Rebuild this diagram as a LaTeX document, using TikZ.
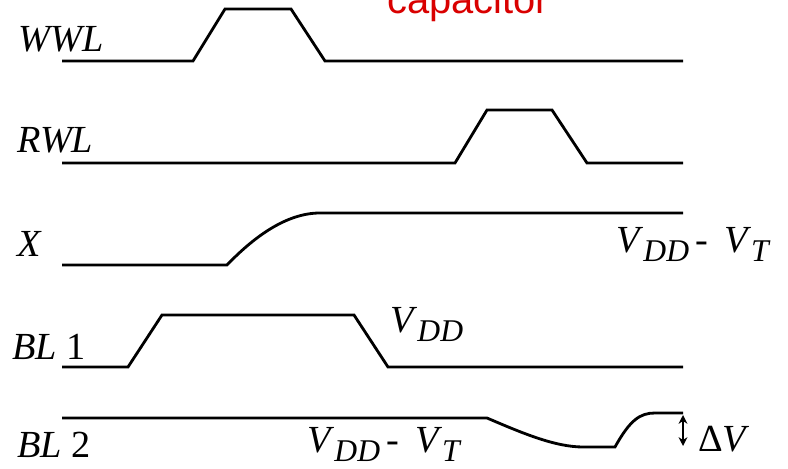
\documentclass[tikz,border=0pt]{standalone}
\usepackage{amsmath}
\usepackage{fontspec}
\setmainfont{Liberation Serif}
\newfontfamily\arialfont{Liberation Sans}
\usetikzlibrary{arrows.meta}

% V with an italic subscript, as in the original slide
\newcommand{\vsub}[2]{\textit{#1}\raisebox{-5pt}{\fontsize{18pt}{18pt}\selectfont\textit{#2}}}

\begin{document}
\begin{tikzpicture}[x=0.02cm, y=-0.02cm, font=\fontsize{21.8pt}{24pt}\selectfont]

	\tikzset{wave/.style={line width=1.6pt, line join=miter},
		lbl/.style={anchor=base west, inner sep=0pt}}

	\def\xS{62}
	\def\xE{683}

	% Bounding box (page size)
	\useasboundingbox (0, 0) rectangle (788, 469);
	\clip (0, 0) rectangle (788, 469);

	% --- Title (cut off at the top) ---
	\node[lbl, text=red!85!black, font=\arialfont\fontsize{22.7pt}{25pt}\selectfont] (cap) at (387, 14) {capacitor};

	% --- Signal names ---
	\node[lbl] (wwl) at (18, 52) {\textit{WWL}};
	\node[lbl] (rwl) at (17, 153) {\textit{RWL}};
	\node[lbl] (xn)  at (17, 257) {\textit{X}};
	\node[lbl] (bla) at (12, 360) {\textit{BL} 1};
	\node[lbl] (blb) at (17, 458) {\textit{BL} 2};

	% --- WWL ---
	\draw[wave] (\xS, 61) -- (193, 61) -- (225, 9) -- (291, 9) -- (325, 61) -- (\xE, 61);

	% --- RWL ---
	\draw[wave] (\xS, 163) -- (455, 163) -- (487, 110) -- (552, 110) -- (587, 163) -- (\xE, 163);

	% --- X ---
	\draw[wave] (\xS, 265) -- (227, 265) .. controls (252, 239) and (285, 213) .. (320, 213) -- (\xE, 213);
	\node[lbl] (xlvl) at (616, 253) {\vsub{V}{DD}\,-\hspace{9pt}\vsub{V}{T}};

	% --- BL 1 ---
	\draw[wave] (\xS, 367) -- (128, 367) -- (162, 315) -- (354, 315) -- (388, 367) -- (\xE, 367);
	\node[lbl] (blalvl) at (390, 333) {\vsub{V}{DD}};

	% --- BL 2 ---
	\draw[wave] (\xS, 418) -- (487, 418) .. controls (522, 433) and (555, 447) .. (583, 447)
		-- (615, 447) .. controls (630, 420) and (640, 413) .. (655, 413) -- (\xE, 413);
	\node[lbl] (blblvl) at (307, 453) {\vsub{V}{DD}\,-\hspace{9pt}\vsub{V}{T}};

	% --- Delta V ---
	\coordinate (dtop) at (\xE, 415);
	\coordinate (dbot) at (\xE, 446);
	\draw[line width=1.1pt, {Stealth[length=5pt, width=5pt]}-{Stealth[length=5pt, width=5pt]}] (dtop) -- (dbot);
	\node[lbl] (dv) at (698, 452) {Δ\textit{V}};

\end{tikzpicture}
\end{document}
